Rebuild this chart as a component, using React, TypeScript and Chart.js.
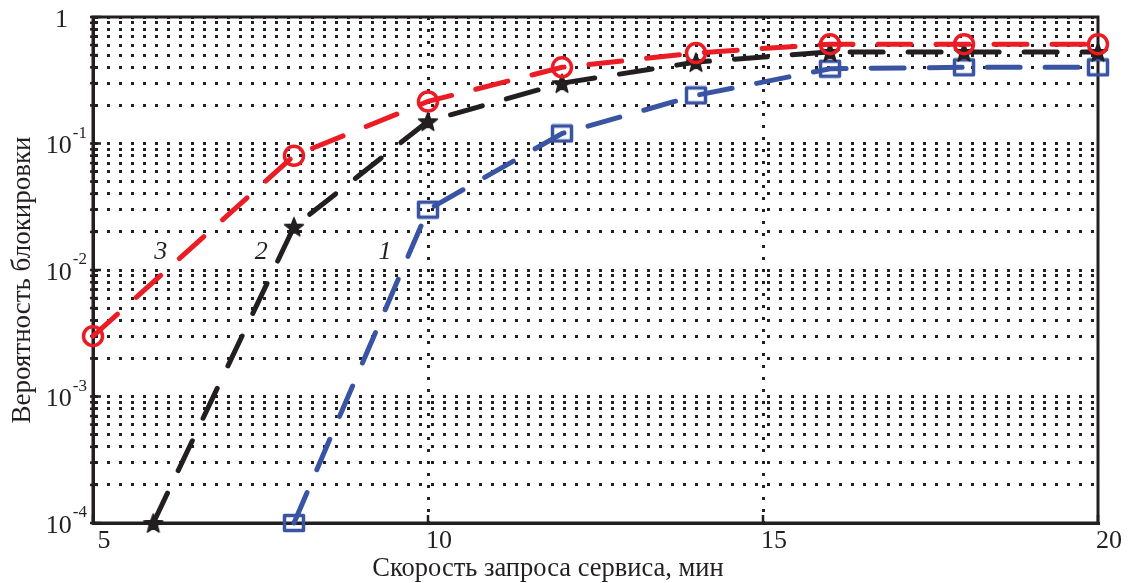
import React, { useEffect, useRef } from 'react';
import { Chart, registerables } from 'chart.js';

Chart.register(...registerables);

// ---- data ----
const xRed = [5, 8, 10, 12, 14, 16, 18, 20];
const yRed = [0.003, 0.08, 0.215, 0.4, 0.52, 0.61, 0.61, 0.61];
const xBlack = [5.9, 8, 10, 12, 14, 16, 18, 20];
const yBlack = [0.0001, 0.022, 0.15, 0.3, 0.44, 0.53, 0.53, 0.53];
const xBlue = [8, 10, 12, 14, 16, 18, 20];
const yBlue = [0.0001, 0.03, 0.12, 0.24, 0.39, 0.4, 0.4];

const xTickValues = [5, 10, 15, 20];
const xGridValues = [10, 15];
const yDecadeExponents = [-4, -3, -2, -1, 0];
const yMinorMultipliers = [1, 2, 3, 4, 5, 6, 7, 8, 9];

const curveLabels = ['3', '2', '1'];
const curveLabelX = [6.01, 7.51, 9.36];
const curveLabelY = [0.0139, 0.0139, 0.0139];

const xTitle = 'Скорость запроса сервиса, мин';
const yTitle = 'Вероятность блокировки';

const RED = '#ec1c24';
const BLACK = '#231f20';
const BLUE = '#3a54a4';
const FONT = '"Liberation Serif", "Times New Roman", serif';

const yTickValues: number[] = [];
yDecadeExponents.forEach((e) => {
  yMinorMultipliers.forEach((m) => {
    const v = m * Math.pow(10, e);
    if (v <= 1.0000001) yTickValues.push(v);
  });
});

function makeStar(): HTMLCanvasElement {
  const c = document.createElement('canvas');
  c.width = 22;
  c.height = 22;
  const g = c.getContext('2d')!;
  g.fillStyle = BLACK;
  g.strokeStyle = BLACK;
  g.lineWidth = 1.5;
  g.lineJoin = 'round';
  g.beginPath();
  for (let i = 0; i < 10; i++) {
    const r = i % 2 === 0 ? 10 : 4.2;
    const a = -Math.PI / 2 + (i * Math.PI) / 5;
    const px = 11 + r * Math.cos(a);
    const py = 12 + r * Math.sin(a);
    if (i === 0) g.moveTo(px, py);
    else g.lineTo(px, py);
  }
  g.closePath();
  g.fill();
  g.stroke();
  return c;
}

function makeRect(): HTMLCanvasElement {
  const c = document.createElement('canvas');
  c.width = 24;
  c.height = 20;
  const g = c.getContext('2d')!;
  g.strokeStyle = BLUE;
  g.lineWidth = 3.5;
  g.lineJoin = 'round';
  g.strokeRect(2.5, 2.5, 19, 15);
  return c;
}

const isPow10 = (v: number) => Math.abs(Math.log10(v) - Math.round(Math.log10(v))) < 1e-9;

const decorPlugin = {
  id: 'decor',
  beforeDatasetsDraw(chart: any) {
    const { ctx, chartArea, scales } = chart;
    const { left, right, top, bottom } = chartArea;
    const y = scales.y;
    const x = scales.x;
    ctx.save();
    ctx.strokeStyle = BLACK;
    ctx.lineWidth = 3;
    ctx.strokeRect(left, top, right - left, bottom - top);
    ctx.lineWidth = 2.5;
    yTickValues.forEach((v) => {
      const py = y.getPixelForValue(v);
      const len = isPow10(v) ? 8 : 5;
      ctx.beginPath();
      ctx.moveTo(left - 3, py);
      ctx.lineTo(left + len, py);
      ctx.stroke();
    });
    xTickValues.forEach((v) => {
      const px = x.getPixelForValue(v);
      ctx.beginPath();
      ctx.moveTo(px, bottom);
      ctx.lineTo(px, bottom - 8);
      ctx.stroke();
    });
    ctx.restore();
  },
  afterDraw(chart: any) {
    const { ctx, scales } = chart;
    const y = scales.y;
    const x = scales.x;
    ctx.save();
    ctx.fillStyle = BLACK;
    // y tick labels with superscripts
    yTickValues.filter(isPow10).forEach((v) => {
      const py = y.getPixelForValue(v);
      const e = Math.round(Math.log10(v));
      if (e === 0) {
        ctx.font = `26px ${FONT}`;
        ctx.textAlign = 'right';
        ctx.textBaseline = 'middle';
        ctx.fillText('1', 68, py + 3);
      } else {
        const sup = String(e);
        ctx.font = `17px ${FONT}`;
        ctx.textAlign = 'right';
        ctx.textBaseline = 'middle';
        const supW = ctx.measureText(sup).width;
        ctx.fillText(sup, 87, py - 10);
        ctx.font = `26px ${FONT}`;
        ctx.fillText('10', 87 - supW - 1, py + 3);
      }
    });
    // curve labels
    ctx.font = `italic 26px ${FONT}`;
    ctx.textAlign = 'center';
    ctx.textBaseline = 'middle';
    curveLabels.forEach((t, i) => {
      ctx.fillText(t, x.getPixelForValue(curveLabelX[i]), y.getPixelForValue(curveLabelY[i]));
    });
    // x title
    ctx.font = `26.5px ${FONT}`;
    ctx.textAlign = 'center';
    ctx.textBaseline = 'alphabetic';
    ctx.fillText(xTitle, 548, 576);
    // y title
    ctx.font = `27px ${FONT}`;
    ctx.translate(30, 280);
    ctx.rotate(-Math.PI / 2);
    ctx.textAlign = 'center';
    ctx.textBaseline = 'alphabetic';
    ctx.fillText(yTitle, 0, 0);
    ctx.restore();
  },
};

export default function App() {
  const ref = useRef<HTMLCanvasElement | null>(null);

  useEffect(() => {
    if (!ref.current) return;
    const star = makeStar();
    const rect = makeRect();
    const lineCommon = {
      borderWidth: 5,
      borderDash: [33, 25],
      borderCapStyle: 'round' as const,
      tension: 0,
      clip: false as any,
      showLine: true,
    };
    const chart = new Chart(ref.current, {
      type: 'scatter',
      data: {
        datasets: [
          {
            ...lineCommon,
            label: '3',
            data: xRed.map((v, i) => ({ x: v, y: yRed[i] })),
            borderColor: RED,
            backgroundColor: 'rgba(0,0,0,0)',
            pointStyle: 'circle',
            pointRadius: 9.5,
            pointBorderWidth: 3.5,
            pointBorderColor: RED,
            pointBackgroundColor: 'rgba(0,0,0,0)',
          },
          {
            ...lineCommon,
            label: '2',
            data: xBlack.map((v, i) => ({ x: v, y: yBlack[i] })),
            borderColor: BLACK,
            backgroundColor: BLACK,
            pointStyle: star as any,
            pointRadius: 10,
          },
          {
            ...lineCommon,
            label: '1',
            data: xBlue.map((v, i) => ({ x: v, y: yBlue[i] })),
            borderColor: BLUE,
            backgroundColor: 'rgba(0,0,0,0)',
            pointStyle: rect as any,
            pointRadius: 10,
          },
        ],
      },
      options: {
        animation: false,
        responsive: false,
        maintainAspectRatio: false,
        layout: { padding: { left: 0, top: 17, right: 31, bottom: 0 } },
        plugins: { legend: { display: false }, tooltip: { enabled: false } },
        scales: {
          x: {
            type: 'linear',
            min: 5,
            max: 20,
            afterBuildTicks: (s: any) => {
              s.ticks = xTickValues.map((v) => ({ value: v }));
            },
            afterFit: (s: any) => {
              s.height = 60;
            },
            ticks: {
              font: { family: FONT, size: 26 },
              color: BLACK,
              padding: 3,
              labelOffset: 11,
              maxRotation: 0,
              autoSkip: false,
            },
            grid: {
              drawTicks: false,
              lineWidth: 3,
              color: (c: any) => (xGridValues.includes(c.tick?.value) ? BLACK : 'rgba(0,0,0,0)'),
            },
            border: { display: true, color: BLACK, width: 3, dash: [3, 9] },
          },
          y: {
            type: 'logarithmic',
            min: 0.0001,
            max: 1,
            afterBuildTicks: (s: any) => {
              s.ticks = yTickValues.map((v) => ({ value: v }));
            },
            afterFit: (s: any) => {
              s.width = 93;
            },
            ticks: { display: false, autoSkip: false },
            grid: {
              drawTicks: false,
              lineWidth: 3,
              color: BLACK,
            },
            border: { display: true, color: BLACK, width: 3, dash: [3, 9] },
          },
        },
      },
      plugins: [decorPlugin],
    });
    return () => chart.destroy();
  }, []);

  return (
    <div style={{ position: 'fixed', left: 0, top: 0, width: 1129, height: 583, background: '#fff' }}>
      <canvas ref={ref} width={1129} height={583} style={{ width: 1129, height: 583 }} />
    </div>
  );
}
